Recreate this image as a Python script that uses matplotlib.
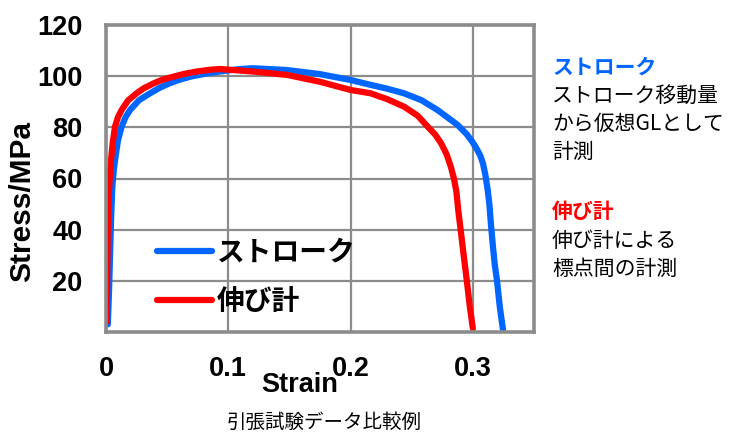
import matplotlib.pyplot as plt

plt.rcParams['font.family'] = ['Liberation Sans', 'Noto Sans CJK JP', 'DejaVu Sans']

# stroke-based strain (virtual GL from crosshead travel)
stroke_strain = [0.0015, 0.0025, 0.0033, 0.0042, 0.0052, 0.0063, 0.0074, 0.0098, 0.0128, 0.016,
                 0.0197, 0.027, 0.036, 0.044, 0.052, 0.060, 0.069, 0.0825, 0.099, 0.11,
                 0.12, 0.148, 0.175, 0.20, 0.2164, 0.23, 0.2437, 0.258, 0.271, 0.2874,
                 0.295, 0.2995, 0.3035, 0.306, 0.3082, 0.3102, 0.312, 0.3135, 0.3148, 0.3165,
                 0.318, 0.3197, 0.322, 0.3246]
stroke_stress = [3, 16.4, 30, 45, 57, 63, 67.2, 75, 80.3, 84,
                 86.8, 90.6, 93.3, 95.5, 97.2, 98.6, 99.8, 101.1, 102.2, 102.8,
                 103.1, 102.4, 100.8, 98.5, 96.6, 95.1, 93.3, 90.6, 86.8, 81,
                 77.3, 74.4, 71.3, 69, 66, 61.5, 56, 50, 42, 33,
                 26, 20.3, 10, 1]

# extensometer
ext_strain = [0.0005, 0.001, 0.0015, 0.002, 0.003, 0.0041, 0.0055, 0.0074, 0.0098, 0.0128,
              0.018, 0.025, 0.031, 0.039, 0.046, 0.055, 0.064, 0.074, 0.085, 0.093,
              0.1207, 0.148, 0.175, 0.20, 0.2164, 0.23, 0.2437, 0.255, 0.263, 0.269,
              0.274, 0.2785, 0.282, 0.2845, 0.2865, 0.2882, 0.290, 0.2925, 0.295, 0.2975,
              0.300]
ext_stress = [4, 25, 42, 52, 60, 67.2, 74, 80.3, 84, 86.8,
              90.5, 93.3, 95.3, 97.2, 98.6, 99.8, 100.9, 101.8, 102.5, 102.8,
              101.8, 100.5, 97.8, 94.6, 93.3, 91, 88.1, 84.5, 80.3, 77.3,
              73.8, 69.5, 64.6, 60, 55, 47, 40, 30, 20.3, 10,
              1.4]

xticks = [0, 0.1, 0.2, 0.3]
xtick_labels = ['0', '0.1', '0.2', '0.3']
yticks = [20, 40, 60, 80, 100, 120]

blue = '#0066ff'
red = '#ff0000'
grid_c = '#8c8c8c'

fig = plt.figure(figsize=(7.33, 4.34), dpi=100)
ax = fig.add_axes([106 / 733, 1 - 332 / 434, 428 / 733, 307 / 434])

ax.plot(stroke_strain, stroke_stress, color=blue, lw=4.5, solid_capstyle='round',
        solid_joinstyle='round', label='ストローク')
ax.plot(ext_strain, ext_stress, color=red, lw=4.5, solid_capstyle='round',
        solid_joinstyle='round', label='伸び計')

ax.set_xlim(0, 0.35)
ax.set_ylim(0, 120)
ax.set_xticks(xticks)
ax.set_xticklabels(xtick_labels)
ax.set_yticks(yticks)
ax.grid(True, color=grid_c, lw=1.6)
ax.set_axisbelow(True)
for s in ax.spines.values():
    s.set_color(grid_c)
    s.set_linewidth(2.6)
ax.tick_params(length=0, pad=17, labelsize=19.5)
for t in ax.get_xticklabels() + ax.get_yticklabels():
    t.set_fontweight('bold')

fig.text(22 / 733, 1 - 201 / 434, 'Stress/MPa', fontsize=21.5, fontweight='bold',
         rotation=90, ha='center', va='center')
fig.text(300 / 733, 1 - 385 / 434, 'Strain', fontsize=19.5, fontweight='bold',
         ha='center', va='center')

leg = ax.legend(loc='center left', bbox_to_anchor=(0.06, 0.178), frameon=False,
                prop={'family': 'Noto Sans CJK JP', 'weight': 'bold', 'size': 20},
                handlelength=2.0, handletextpad=0.15, labelspacing=0.78)

# side notes
fx = 552 / 733
fig.text(fx, 1 - 67 / 434, 'ストローク', color=blue, fontsize=15, fontweight='bold',
         family='Noto Sans CJK JP', va='center')
for i, line in enumerate(['ストローク移動量', 'から仮想GLとして', '計測']):
    fig.text(fx, 1 - (96 + 28 * i) / 434, line, fontsize=15,
             family='Noto Sans CJK JP', va='center')
fig.text(fx, 1 - 212 / 434, '伸び計', color=red, fontsize=15, fontweight='bold',
         family='Noto Sans CJK JP', va='center')
for i, line in enumerate(['伸び計による', '標点間の計測']):
    fig.text(fx, 1 - (241 + 28 * i) / 434, line, fontsize=15,
             family='Noto Sans CJK JP', va='center')

fig.text(324 / 733, 1 - 422 / 434, '引張試験データ比較例', fontsize=14,
         family='Noto Sans CJK JP', ha='center', va='center')

fig.savefig('out.png', dpi=100)
